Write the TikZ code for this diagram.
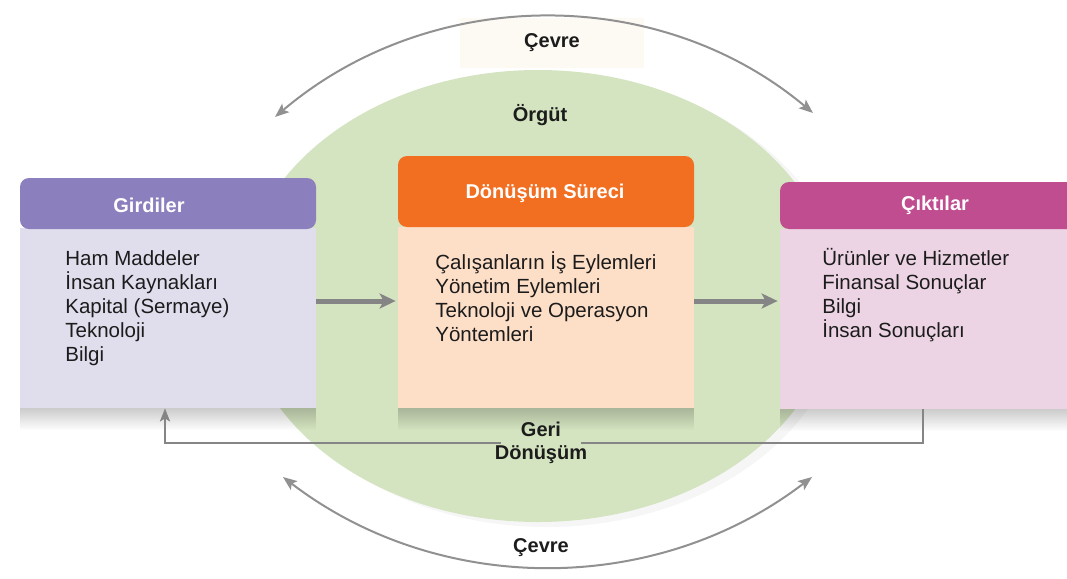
\documentclass[tikz,border=0pt]{standalone}
\usepackage{fontspec}
\setmainfont{Liberation Sans}
\usetikzlibrary{arrows.meta,shadows,shapes.geometric,fadings}

\definecolor{yesil}{HTML}{D4E4C0}
\definecolor{mor}{HTML}{8B7FBD}
\definecolor{moracik}{HTML}{E0DDED}
\definecolor{turuncu}{HTML}{F26F22}
\definecolor{turuncuacik}{HTML}{FDDEC7}
\definecolor{pembe}{HTML}{C04D90}
\definecolor{pembeacik}{HTML}{ECD4E4}
\definecolor{gri}{HTML}{858585}
\definecolor{yazi}{HTML}{1C1C1C}
\definecolor{krem}{HTML}{FDFAF3}

\tikzset{every picture/.style={line width=0.75pt}}
\tikzset{
  govde/.style={rectangle, inner sep=0pt, draw=none},
  golge/.style={fill=black, opacity=0.2, path fading=south},
  baslik/.style={rectangle, rounded corners=9pt, inner sep=0pt, draw=none},
  basliktext/.style={text=white, font=\fontsize{20}{24}\selectfont\bfseries, inner sep=0pt},
  liste/.style={text=yazi, font=\fontsize{20.5}{24}\selectfont, align=left, anchor=north west, inner sep=0pt},
  etiket/.style={text=yazi, font=\fontsize{20}{23}\selectfont\bfseries, align=center, inner sep=0pt},
  akis/.style={draw=gri, line width=5pt, -{Stealth[length=16pt, width=15pt, inset=4pt]}},
  geriok/.style={draw=gri, line width=2.5pt},
  cevreok/.style={draw=gri!90, line width=2pt, {Stealth[length=14pt, width=11pt, inset=3pt]}-{Stealth[length=14pt, width=11pt, inset=3pt]}}
}

\begin{document}
\begin{tikzpicture}[x=1pt,y=1pt,yscale=-1,xscale=1]
\useasboundingbox (0,0) rectangle (1067,578);

%Shape: Ellipse [orgut]
\node[ellipse, fill=yesil, minimum width=594, minimum height=452, inner sep=0pt,
  drop shadow={shadow xshift=9pt, shadow yshift=-5pt, opacity=0.07}] (orgut) at (538,296) {};
% Text Node
\node[etiket] (orgutad) at (540,115) {Örgüt};

%Shape: Rectangle [girdiler]
\node[govde, fill=moracik, minimum width=296, minimum height=180] (girdiler) at (168,318) {};
\node[baslik, fill=mor, minimum width=296, minimum height=51] (girdilerbas) at (168,203.5) {};
\fill[golge] (girdiler.south west) rectangle ([yshift=22pt]girdiler.south east);
% Text Node
\node[basliktext] (girdilerad) at (149,205) {Girdiler};
\node[liste] (girdilerliste) at (65,250) {Ham Maddeler\\İnsan Kaynakları\\Kapital (Sermaye)\\Teknoloji\\Bilgi};

%Shape: Rectangle [surec]
\node[govde, fill=turuncuacik, minimum width=296, minimum height=181] (surec) at (546,317.5) {};
\node[baslik, fill=turuncu, minimum width=296, minimum height=71] (surecbas) at (546,191.5) {};
\fill[golge] (surec.south west) rectangle ([yshift=22pt]surec.south east);
% Text Node
\node[basliktext] (surecad) at (545,193) {Dönüşüm Süreci};
\node[liste] (surecliste) at (435,251) {Çalışanların İş Eylemleri\\Yönetim Eylemleri\\Teknoloji ve Operasyon\\Yöntemleri};

%Shape: Rectangle [ciktilar]
\node[govde, fill=pembeacik, minimum width=310, minimum height=180] (ciktilar) at (935,319) {};
\node[baslik, fill=pembe, minimum width=310, minimum height=47] (ciktilarbas) at (935,205.5) {};
\fill[golge] (ciktilar.south west) rectangle ([yshift=22pt]ciktilar.south east);
% Text Node
\node[basliktext] (ciktilarad) at (935,205) {Çıktılar};
\node[liste] (ciktilarliste) at (822,248) {Ürünler ve Hizmetler\\Finansal Sonuçlar\\Bilgi\\İnsan Sonuçları};

%Straight Lines [akis]
\draw[akis, shorten >=2pt] (girdiler.east |- 0,301) -- (surec.west |- 0,301);
\draw[akis, shorten >=2pt] (surec.east |- 0,301) -- (ciktilar.west |- 0,301);

% Text Node
\node[etiket] (geridon) at (541,443) {Geri\\Dönüşüm};
%Straight Lines [geri donusum]
\draw[geriok] (ciktilar.south -| 923,0) |- ([xshift=-6pt]geridon.east);
\draw[geriok, -{Stealth[length=13pt, width=10pt, inset=3pt]}] ([xshift=6pt]geridon.west) -| (girdiler.south -| 165,0);

% Text Node
\node[etiket, fill=krem, minimum width=184, minimum height=50] (cevreust) at (552,43) {Çevre};
\node[etiket] (cevrealt) at (541,548) {Çevre};

%Curve Lines [cevre]
\coordinate (ustsol) at (275,117);
\coordinate (ustsag) at (813,113);
\coordinate (altsol) at (283,477);
\coordinate (altsag) at (812,477);
\draw[cevreok] (ustsol) .. controls (429,-13.5) and (657,-17.5) .. (ustsag);
\draw[cevreok] (altsol) .. controls (439,596.5) and (656,596.5) .. (altsag);

\end{tikzpicture}
\end{document}
